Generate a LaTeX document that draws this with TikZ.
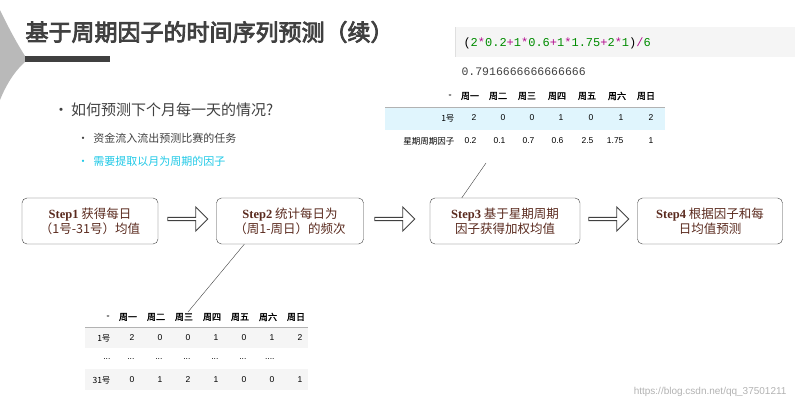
\documentclass[tikz,border=0pt]{standalone}
\usepackage{fontspec}
\setmainfont{Liberation Sans}
\newfontfamily\cjk{Noto Sans CJK SC}
\newfontfamily\cjkb[FakeBold=3.5]{Noto Sans CJK SC}
\newfontfamily\cjkbb[FakeBold=1.5]{Noto Sans CJK SC}
\newfontfamily\lser{Liberation Serif}
\newfontfamily\lmono{Liberation Mono}
\usetikzlibrary{shapes.arrows}
\definecolor{tc}{HTML}{404040}
\definecolor{sc}{HTML}{5A2A1E}
\definecolor{cy}{HTML}{1EC8E6}
\newcommand{\dotsA}{...}
\newcommand{\dotsB}{....}
\tikzset{
 stepbox/.style={draw=tc,rounded corners=5pt,minimum height=46pt,align=center,font=\cjk\fontsize{12.5}{15}\selectfont,text=sc,inner sep=3pt},
 barrow/.style={single arrow,draw=tc,line width=0.9pt,minimum width=24pt,single arrow head extend=3pt,minimum height=40pt,inner sep=0pt},
 th/.style={font=\cjkbb\fontsize{9}{10}\selectfont},
 td/.style={font=\fontsize{8.5}{10}\selectfont},
}
\begin{document}
\begin{tikzpicture}[x=1pt,y=-1pt]
\useasboundingbox (0,0) rectangle (795,410);
% decoration
\fill[gray!55] (0,10) .. controls (12,35) and (20,48) .. (25,56) -- (25,62) .. controls (18,68) and (8,80) .. (0,100) -- cycle;
\fill[tc] (25,56) rectangle (110,62);
\node[anchor=west,font=\cjkb\fontsize{23}{26}\selectfont,text=tc] (title) at (22,32) {基于周期因子的时间序列预测（续）};
% bullets
\node[anchor=west,font=\cjk\fontsize{15}{17}\selectfont,text=tc] (b1) at (50,110) {•\,如何预测下个月每一天的情况?};
\node[anchor=west,font=\cjk\fontsize{11}{12}\selectfont,text=tc] (b2) at (74,138) {•\ \ 资金流入流出预测比赛的任务};
\node[anchor=west,font=\cjk\fontsize{11}{12}\selectfont,text=cy] (b3) at (74,161) {•\ \ 需要提取以月为周期的因子};
% code
\fill[gray!8] (455,27) rectangle (795,57);
\draw[gray!25] (455,27) -- (455,57);
\node[anchor=west,font=\lmono\fontsize{12}{13}\selectfont] (code) at (460,43) {(\textcolor{green!55!black}{2}\textcolor{magenta!70!blue}{*}\textcolor{green!55!black}{0.2}\textcolor{magenta!70!blue}{+}\textcolor{green!55!black}{1}\textcolor{magenta!70!blue}{*}\textcolor{green!55!black}{0.6}\textcolor{magenta!70!blue}{+}\textcolor{green!55!black}{1}\textcolor{magenta!70!blue}{*}\textcolor{green!55!black}{1.75}\textcolor{magenta!70!blue}{+}\textcolor{green!55!black}{2}\textcolor{magenta!70!blue}{*}\textcolor{green!55!black}{1})\textcolor{magenta!70!blue}{/}\textcolor{green!55!black}{6}};
\node[anchor=west,font=\lmono\fontsize{11.5}{12}\selectfont,text=tc] (res) at (458,72) {0.7916666666666666};
% top table
\fill[cyan!12] (385,107) rectangle (665,130);
\draw[gray!60] (385,107) -- (665,107);
\foreach \n/\x/\h in {0/450/-,1/470/周一,2/498/周二,3/527/周三,4/557/周四,5/587/周五,6/617/周六,7/646/周日}
  \node[th] (th\n) at (\x,96) {\h};
\foreach \x/\v in {475/2,504/0,533/0,562/1,592/0,622/1,652/2}
  \node[td,anchor=east] at (\x+5,118) {\v};
\node[td,anchor=east,font=\cjk\fontsize{8.5}{10}\selectfont] (r1) at (458,118) {1号};
\node[td,anchor=east,font=\cjk\fontsize{8.5}{10}\selectfont] (r2) at (458,141) {星期周期因子};
\foreach \x/\v in {475/0.2,504/0.1,533/0.7,562/0.6,592/2.5,622/1.75,652/1}
  \node[td,anchor=east] at (\x+5,141) {\v};
\coordinate (tt) at (486,163);
% steps
\node[stepbox,minimum width=136pt] (s1) at (90,221) {{\lser\bfseries Step1} 获得每日\\（1号-31号）均值};
\node[stepbox,minimum width=147pt] (s2) at (290,221) {{\lser\bfseries Step2} 统计每日为\\（周1-周日）的频次};
\node[stepbox,minimum width=150pt] (s3) at (505,221) {{\lser\bfseries Step3} 基于星期周期\\因子获得加权均值};
\node[stepbox,minimum width=145pt] (s4) at (710,221) {{\lser\bfseries Step4} 根据因子和每\\日均值预测};
\node[barrow] (a1) at (187,219) {};
\node[barrow] (a2) at (394,219) {};
\node[barrow] (a3) at (608,219) {};
\draw[tc] (s3.north west) ++(32,0) coordinate (s3t) -- (tt);
% bottom table
\fill[gray!8] (85,327) rectangle (308,348);
\fill[gray!8] (85,369) rectangle (308,390);
\draw[gray!60] (85,327) -- (308,327);
\foreach \n/\x/\h in {0/108/-,1/128/周一,2/156/周二,3/184/周三,4/212/周四,5/240/周五,6/268/周六,7/296/周日}
  \node[th] (bh\n) at (\x,317) {\h};
\node[td,anchor=east,font=\cjk\fontsize{8.5}{10}\selectfont] at (114,338) {1号};
\node[td,anchor=east,font=\cjk\fontsize{8.5}{10}\selectfont] at (114,380) {31号};
\node[td,anchor=east] at (114,359) {\dotsA};
\foreach \x/\a/\b/\c in {128/2/\dotsA/0,156/0/\dotsA/1,184/0/\dotsA/2,212/1/\dotsA/1,240/0/\dotsA/0,268/1/\dotsB/0,296/2//1}{
  \node[td,anchor=east] at (\x+10,338) {\a};
  \node[td,anchor=east] at (\x+10,359) {\b};
  \node[td,anchor=east] at (\x+10,380) {\c};}
\coordinate (bt) at (188,312);
\draw[tc] (s2.south west) ++(28,0) -- (bt);
\node[anchor=east,font=\fontsize{10}{12}\selectfont,text=gray!60] (wm) at (790,392) {https://blog.csdn.net/qq\_37501211};
\end{tikzpicture}
\end{document}
